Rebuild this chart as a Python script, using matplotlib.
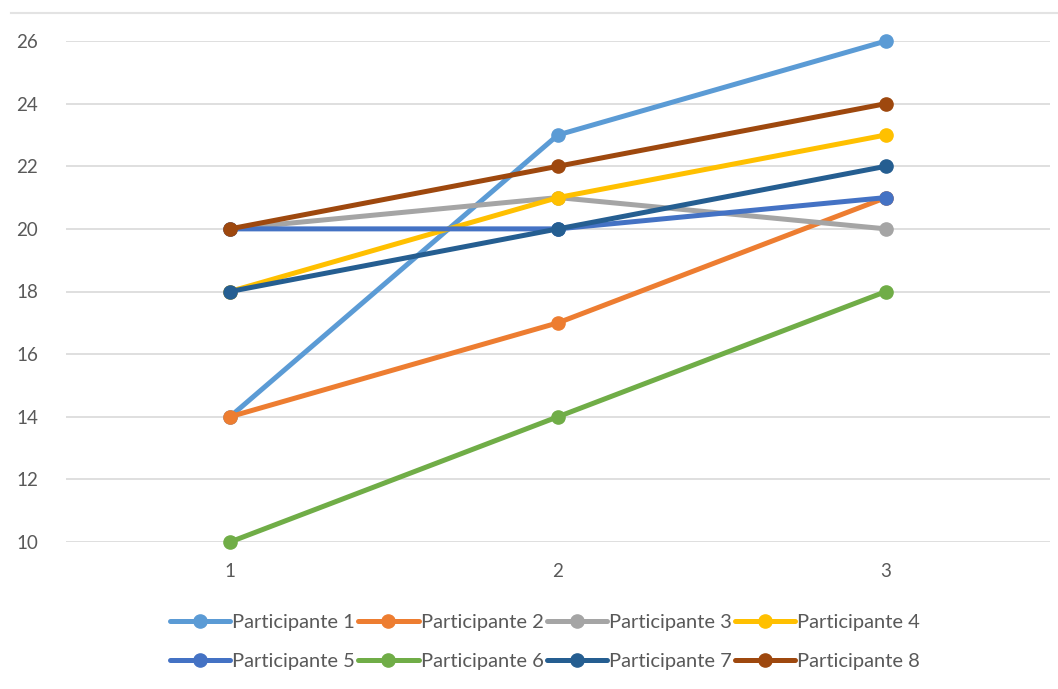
import matplotlib.pyplot as plt
from matplotlib.lines import Line2D

# Scores per participant at the three measurements
x_labels = ["1", "2", "3"]
p1 = [14, 23, 26]
p2 = [14, 17, 21]
p3 = [20, 21, 20]
p4 = [18, 21, 23]
p5 = [20, 20, 21]
p6 = [10, 14, 18]
p7 = [18, 20, 22]
p8 = [20, 22, 24]
series = [p1, p2, p3, p4, p5, p6, p7, p8]
names = ["Participante %d" % (i + 1) for i in range(len(series))]
colors = ["#5B9BD5", "#ED7D31", "#A5A5A5", "#FFC000",
          "#4472C4", "#70AD47", "#255E91", "#9E480E"]

plt.rcParams['font.family'] = ['Lato', 'DejaVu Sans']

fig = plt.figure(figsize=(10.58, 6.89), dpi=100)
ax = fig.add_axes([66 / 1058, (689 - 542) / 689, (1050 - 66) / 1058, (542 - 41) / 689])

xs = list(range(1, len(x_labels) + 1))
for vals, name, c in zip(series, names, colors):
    ax.plot(xs, vals, color=c, lw=3.6, marker='o', ms=9.5, label=name,
            solid_capstyle='round', clip_on=False, zorder=3)

ax.set_xlim(0.5, 3.5)
ax.set_ylim(10, 26)
ax.set_yticks(range(10, 27, 2))
ax.set_xticks(xs)
ax.set_xticklabels(x_labels)
ax.grid(axis='y', color='#D9D9D9', lw=1.2)
ax.set_axisbelow(True)
for s in ax.spines.values():
    s.set_visible(False)
ax.tick_params(length=0, labelsize=13.5, labelcolor='#595959')
ax.tick_params(axis='y', pad=20)
ax.tick_params(axis='x', pad=15)

# thin border line across the top of the figure
fig.add_artist(Line2D([0.01, 1.0], [1 - 13 / 689, 1 - 13 / 689], color='#E3E3E3', lw=1.5))

# legend fills column by column, so reorder to read row by row
handles, labels = ax.get_legend_handles_labels()
order = [0, 4, 1, 5, 2, 6, 3, 7]
fig.legend([handles[i] for i in order], [labels[i] for i in order],
           loc='center', bbox_to_anchor=(545 / 1058, 1 - 642 / 689), ncol=4,
           frameon=False, fontsize=14.5, labelcolor='#595959', handlelength=3.0,
           handletextpad=0.1, columnspacing=0.15, labelspacing=1.1, borderpad=0)

fig.savefig("out.png", dpi=100, facecolor='white')
